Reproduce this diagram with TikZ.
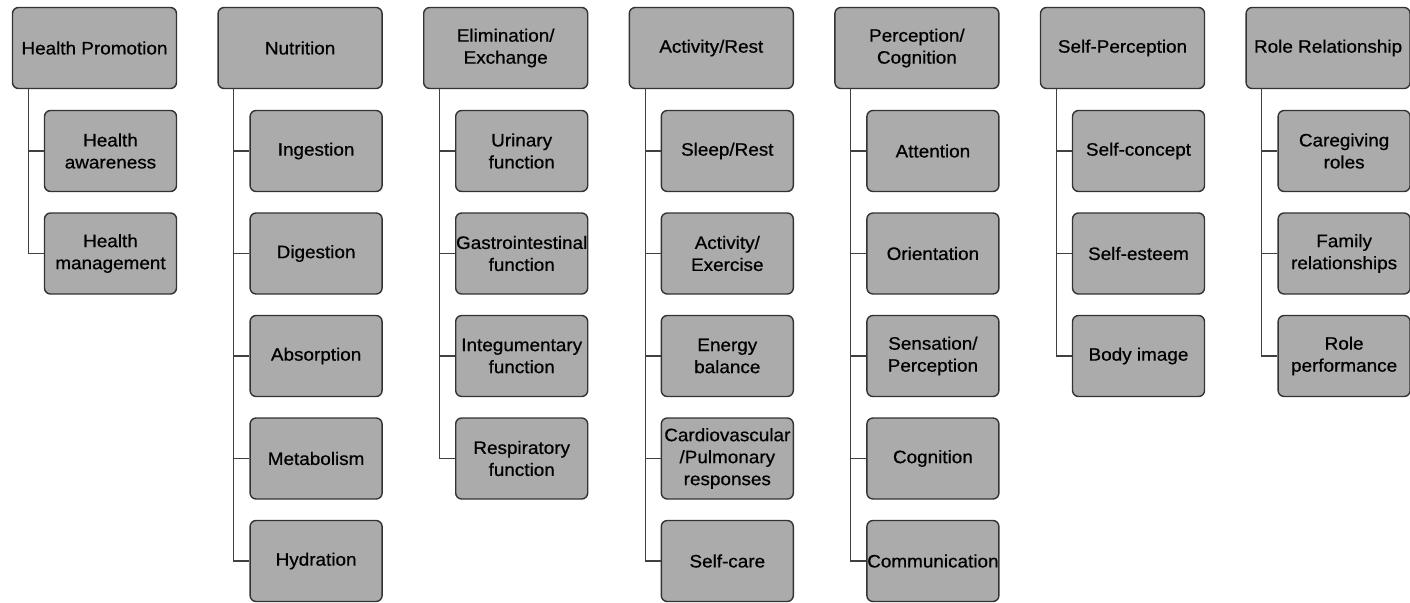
\documentclass[tikz,border=0pt]{standalone}
\usepackage{fontspec}
\setmainfont{Liberation Sans}[FakeStretch=1.05,FakeBold=0.6]
\usetikzlibrary{trees}

\begin{document}
\begin{tikzpicture}[x=1pt,y=-1pt] %% domain trees
	\useasboundingbox (0,0) rectangle (1410,602);
	\tikzstyle{box}=[draw=black!80,line width=1.4pt,fill=black!33,rounded corners=6pt,align=center,inner sep=0pt,font=\fontsize{18}{22}\selectfont]
	\tikzstyle{domainbox}=[box,minimum width=164pt,minimum height=81pt]
	\tikzstyle{classbox}=[box,minimum width=132pt,minimum height=81pt]
	\tikzstyle{every child node}=[classbox]
	\tikzstyle{edge from parent}=[draw=black!75,line width=1.1pt]
	\tikzstyle{level 1}=[grow via three points={one child at (16,103) and two children at (16,103) and (16,205.5)},
		edge from parent path={([xshift=16.5pt]\tikzparentnode.south west) |- (\tikzchildnode.west)}]
	\node[domainbox] (hp) at (94.5,48) {Health Promotion}
		child { node {Health\\awareness} }
		child { node {Health\\management} };
	\node[domainbox] (nu) at (300.1,48) {Nutrition}
		child { node {Ingestion} }
		child { node {Digestion} }
		child { node {Absorption} }
		child { node {Metabolism} }
		child { node {Hydration} };
	\node[domainbox] (el) at (505.7,48) {Elimination/\\Exchange}
		child { node {Urinary\\function} }
		child { node {Gastrointestinal\\function} }
		child { node {Integumentary\\function} }
		child { node {Respiratory\\function} };
	\node[domainbox] (ar) at (711.3,48) {Activity/Rest}
		child { node {Sleep/Rest} }
		child { node {Activity/\\Exercise} }
		child { node {Energy\\balance} }
		child { node {Cardiovascular\\/Pulmonary\\responses} }
		child { node {Self-care} };
	\node[domainbox] (pc) at (916.9,48) {Perception/\\Cognition}
		child { node {Attention} }
		child { node {Orientation} }
		child { node {Sensation/\\Perception} }
		child { node {Cognition} }
		child { node {Communication} };
	\node[domainbox] (sp) at (1122.5,48) {Self-Perception}
		child { node {Self-concept} }
		child { node {Self-esteem} }
		child { node {Body image} };
	\node[domainbox] (rr) at (1328.1,48) {Role Relationship}
		child { node {Caregiving\\roles} }
		child { node {Family\\relationships} }
		child { node {Role\\performance} };
\end{tikzpicture}
\end{document}
